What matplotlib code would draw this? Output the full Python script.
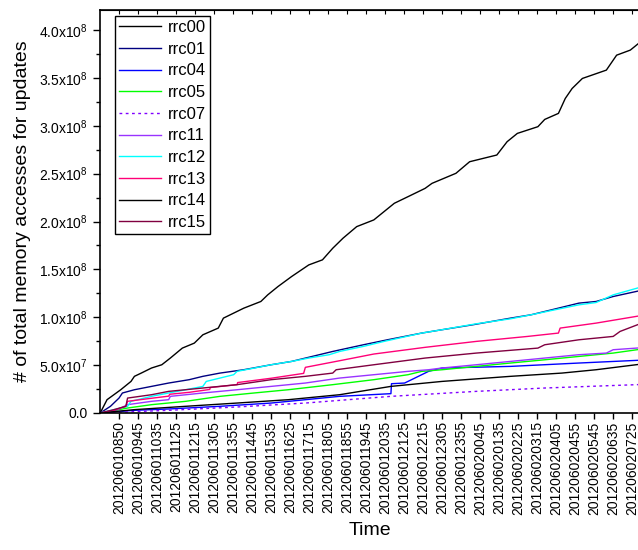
import matplotlib
matplotlib.use("Agg")
import matplotlib.pyplot as plt
import numpy as np
from matplotlib.ticker import FuncFormatter, MultipleLocator

plt.rcParams['font.family'] = ['Liberation Sans', 'DejaVu Sans']
plt.rcParams['mathtext.default'] = 'regular'

# x in units of tick-label slots (0 = 201206010850), y in millions
time_labels = ['201206010850', '201206010945', '201206011035', '201206011125',
               '201206011215', '201206011305', '201206011355', '201206011445',
               '201206011535', '201206011625', '201206011715', '201206011805',
               '201206011855', '201206011945', '201206012035', '201206012125',
               '201206012215', '201206012305', '201206012355', '201206020045',
               '201206020135', '201206020225', '201206020315', '201206020405',
               '201206020455', '201206020545', '201206020635', '201206020725']

rrc00_x = [-0.99, -0.63, -0.27, 0.09, 0.63, 0.81, 1.17, 1.71, 2.25, 2.70, 3.33, 3.96,
           4.41, 5.22, 5.49, 6.56, 7.46, 7.82, 8.36, 9.08, 9.98, 10.70, 11.24, 11.78,
           12.50, 13.40, 13.94, 14.48, 15.20, 16.10, 16.46, 17.72, 18.44, 19.87, 20.41,
           20.95, 22.03, 22.39, 23.11, 23.47, 23.83, 24.37, 25.63, 26.17, 26.89, 27.35]
rrc00_y = [0, 13.9, 19.1, 24.3, 33.0, 38.3, 41.7, 47.0, 50.4, 57.4, 67.8, 73.0,
           81.7, 88.7, 99.1, 109.5, 116.5, 123.4, 132.1, 142.6, 154.7, 160.0, 172.1, 182.6,
           194.7, 201.7, 210.4, 219.1, 226.0, 234.7, 239.9, 250.4, 262.5, 269.5, 283.4,
           292.1, 299.1, 306.7, 313.0, 328.6, 339.0, 349.5, 358.2, 373.8, 379.1, 386.5]

rrc01_x = [-0.99, -0.45, 0.0, 0.18, 0.81, 1.71, 2.61, 3.69, 4.41, 5.31, 6.56, 8.00, 9.08,
           10.16, 11.24, 12.86, 14.12, 15.92, 16.99, 18.62, 20.59, 21.67, 22.75, 24.19,
           25.09, 25.99, 27.35]
rrc01_y = [0, 7.0, 15.6, 20.9, 24.3, 27.8, 31.3, 34.8, 38.3, 41.7, 45.2, 50.4, 53.9,
           59.1, 64.3, 71.3, 76.5, 83.5, 87.0, 92.2, 99.1, 102.6, 107.8, 114.8,
           116.5, 121.7, 127.6]

rrc04_x = [-0.99, 0.81, 2.61, 5.31, 8.00, 11.60, 14.30, 14.33, 15.02, 15.56, 16.28, 16.99,
           20.59, 24.19, 27.35]
rrc04_y = [0, 2.8, 4.2, 7.0, 10.4, 17.4, 20.2, 30.6, 31.3, 36.5, 43.5, 47.0,
           48.7, 52.2, 55.1]

rrc05_x = [-0.99, 0.45, 1.71, 3.51, 5.31, 7.10, 8.90, 11.24, 13.40, 15.20, 15.92, 16.99,
           18.79, 20.59, 22.39, 24.19, 25.99, 27.35]
rrc05_y = [0, 5.2, 8.7, 12.2, 17.4, 20.9, 24.3, 29.6, 34.8, 40.0, 43.5, 45.2,
           48.7, 52.2, 55.6, 59.1, 62.6, 66.4]

rrc07_x = [-0.99, 2.61, 6.21, 9.80, 14.30, 18.79, 22.39, 27.35]
rrc07_y = [0, 2.8, 6.3, 10.4, 17.4, 22.6, 26.1, 29.7]

rrc11_x = [-0.99, -0.09, 0.45, 1.71, 2.61, 2.70, 4.41, 6.21, 8.00, 9.80, 11.60, 13.40,
           15.20, 16.28, 16.99, 18.79, 20.59, 22.39, 24.19, 25.63, 25.99, 27.35]
rrc11_y = [0, 3.5, 8.7, 12.2, 13.9, 17.4, 20.9, 24.3, 27.8, 31.3, 36.5, 40.0,
           43.5, 45.2, 47.0, 50.4, 53.9, 57.4, 60.9, 62.6, 66.1, 68.0]

rrc12_x = [-0.99, -0.27, 0.45, 0.63, 1.71, 2.61, 3.51, 4.41, 4.59, 5.31, 6.03, 6.21,
           7.10, 8.00, 9.08, 9.98, 11.06, 11.60, 12.86, 13.94, 15.92, 16.99, 18.79,
           20.59, 21.67, 22.75, 24.19, 25.09, 25.99, 27.35]
rrc12_y = [0, 3.5, 7.0, 12.2, 17.4, 20.9, 24.3, 27.8, 33.0, 36.5, 40.0, 43.5,
           46.9, 50.4, 53.9, 57.4, 60.9, 64.3, 69.6, 74.8, 83.5, 87.0, 93.2,
           98.4, 102.6, 107.1, 113.0, 115.4, 123.4, 131.0]

rrc13_x = [-0.99, -0.27, 0.36, 0.45, 1.71, 2.61, 2.67, 3.69, 4.77, 4.80, 6.21, 6.24, 8.00,
           9.71, 9.80, 11.60, 13.40, 16.10, 18.79, 21.49, 23.11, 23.20, 25.09, 27.35]
rrc13_y = [0, 2.8, 7.0, 12.2, 15.4, 17.6, 19.6, 21.6, 24.6, 26.6, 29.6, 31.8, 36.3,
           41.4, 47.7, 54.6, 61.6, 68.6, 74.8, 80.0, 83.5, 88.7, 93.9, 101.4]

rrc14_x = [-0.99, 0.81, 3.51, 6.21, 8.90, 11.60, 14.30, 16.99, 20.59, 23.29, 25.09, 27.35]
rrc14_y = [0, 3.5, 7.0, 10.4, 13.9, 19.1, 27.8, 33.0, 38.3, 41.7, 45.2, 50.8]

rrc15_x = [-0.99, -0.27, 0.36, 0.45, 1.71, 2.61, 4.41, 6.21, 8.00, 9.80, 11.24, 11.42,
           13.40, 16.10, 18.79, 22.03, 22.39, 24.19, 25.99, 26.35, 27.35]
rrc15_y = [0, 3.5, 7.0, 15.6, 19.1, 22.6, 26.1, 29.6, 34.8, 38.3, 41.7, 45.2,
           50.4, 57.4, 62.6, 67.8, 71.3, 76.5, 80.0, 85.2, 92.8]

fig = plt.figure(figsize=(6.38, 5.5), dpi=100)
ax = fig.add_axes([100 / 638, 1 - 413 / 550, 540 / 638, 403 / 550])

lw = 1.0
ax.plot(rrc00_x, np.array(rrc00_y) * 1e6, color='black', lw=lw, label='rrc00')
ax.plot(rrc01_x, np.array(rrc01_y) * 1e6, color='#000080', lw=lw, label='rrc01')
ax.plot(rrc04_x, np.array(rrc04_y) * 1e6, color='#0000ff', lw=lw, label='rrc04')
ax.plot(rrc05_x, np.array(rrc05_y) * 1e6, color='#00ff00', lw=lw, label='rrc05')
ax.plot(rrc07_x, np.array(rrc07_y) * 1e6, color='#8000ff', lw=lw, ls=(0, (2, 2.5)), label='rrc07')
ax.plot(rrc11_x, np.array(rrc11_y) * 1e6, color='#9933ff', lw=lw, label='rrc11')
ax.plot(rrc12_x, np.array(rrc12_y) * 1e6, color='#00ffff', lw=lw, label='rrc12')
ax.plot(rrc13_x, np.array(rrc13_y) * 1e6, color='#ff0077', lw=lw, label='rrc13')
ax.plot(rrc14_x, np.array(rrc14_y) * 1e6, color='black', lw=lw, label='rrc14')
ax.plot(rrc15_x, np.array(rrc15_y) * 1e6, color='#800040', lw=lw, label='rrc15')

ax.set_xlim(-1, 27.4)
ax.set_ylim(0, 4.21e8)

ax.set_xticks(np.arange(len(time_labels)))
ax.set_xticklabels(time_labels, rotation=90, fontsize=10)
ax.tick_params(axis='x', direction='out', length=4, width=1, pad=2)
top = ax.secondary_xaxis('top')
top.set_xticks(np.arange(len(time_labels)))
top.tick_params(direction='in', length=3, labeltop=False)


def yfmt(v, pos):
    if v <= 0:
        return '0.0'
    e = int(np.floor(np.log10(v)))
    return f'{v / 10**e:.1f}x10$^{{{e}}}$'


ax.yaxis.set_major_locator(MultipleLocator(0.5e8))
ax.yaxis.set_minor_locator(MultipleLocator(0.25e8))
ax.yaxis.set_major_formatter(FuncFormatter(yfmt))
ax.tick_params(axis='y', which='major', direction='out', length=5, width=1, labelsize=10)
ax.tick_params(axis='y', which='minor', direction='out', length=3, width=1)

ax.spines['right'].set_visible(False)
for s in ['left', 'bottom', 'top']:
    ax.spines[s].set_linewidth(1.2)

ax.set_xlabel('Time', fontsize=14, labelpad=5)
ax.set_ylabel('# of total memory accesses for updates', fontsize=14, labelpad=6)

leg = ax.legend(loc='upper left', bbox_to_anchor=(15 / 540, 1 - 6 / 403), borderaxespad=0,
                fontsize=12, handlelength=2.5, handletextpad=0.4, labelspacing=0.4,
                borderpad=0.25, fancybox=False, framealpha=1, edgecolor='black')
leg.get_frame().set_linewidth(1.0)

fig.savefig('out.png', dpi=100)
